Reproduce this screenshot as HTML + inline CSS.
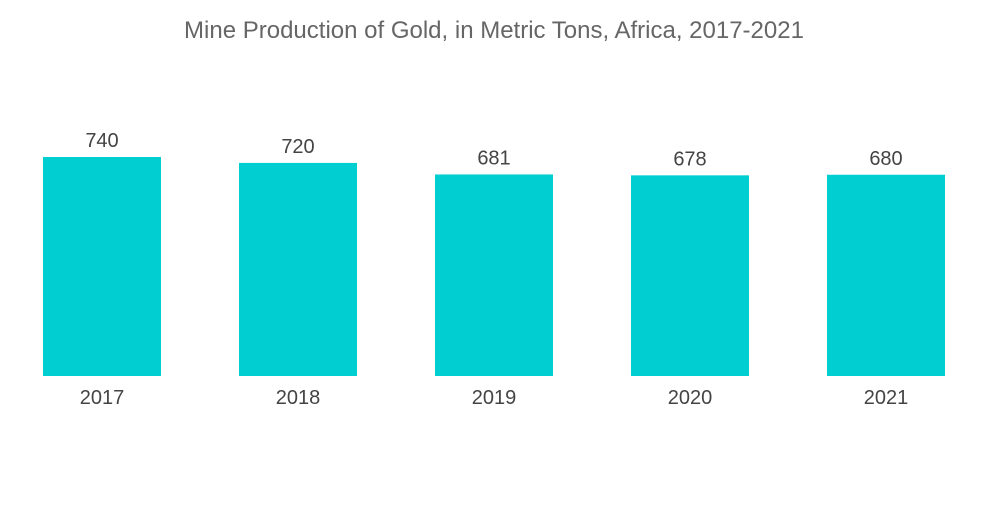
<!DOCTYPE html>
<html><head><meta charset="utf-8"><style>
body{margin:0;background:#fff;width:1000px;height:504px;overflow:hidden;font-family:"Liberation Sans",sans-serif}
</style></head><body>
<svg width="1000" height="504">
<text x="494" y="38" text-anchor="middle" font-size="24" fill="#666">Mine Production of Gold, in Metric Tons, Africa, 2017-2021</text>
<g id="bars"></g>
</svg>
<script>
const categories=["2017","2018","2019","2020","2021"];
const values=[740,720,681,678,680];
const valueLabels=["740","720","681","678","680"];
const base=376, scale=219/740, x0=43, step=196, bw=118;
const g=document.getElementById('bars');
const ns="http://www.w3.org/2000/svg";
function y(v){return base-v*scale;}
categories.forEach((c,i)=>{
  const x=x0+i*step;
  const r=document.createElementNS(ns,'rect');
  r.setAttribute('x',x);r.setAttribute('y',y(values[i]));r.setAttribute('width',bw);r.setAttribute('height',base-y(values[i]));r.setAttribute('fill','#00ced1');
  
  
  g.appendChild(r);
  const t=document.createElementNS(ns,'text');
  t.setAttribute('x',x+bw/2);t.setAttribute('y',y(values[i])-10);t.setAttribute('text-anchor','middle');t.setAttribute('font-size','20');t.setAttribute('fill','#444');
  t.textContent=valueLabels[i];
  
  
  g.appendChild(t);
  const l=document.createElementNS(ns,'text');
  l.setAttribute('x',x+bw/2);l.setAttribute('y',404);l.setAttribute('text-anchor','middle');l.setAttribute('font-size','20');l.setAttribute('fill','#444');
  l.textContent=c;
  
  
  g.appendChild(l);
});
</script>
</body></html>
